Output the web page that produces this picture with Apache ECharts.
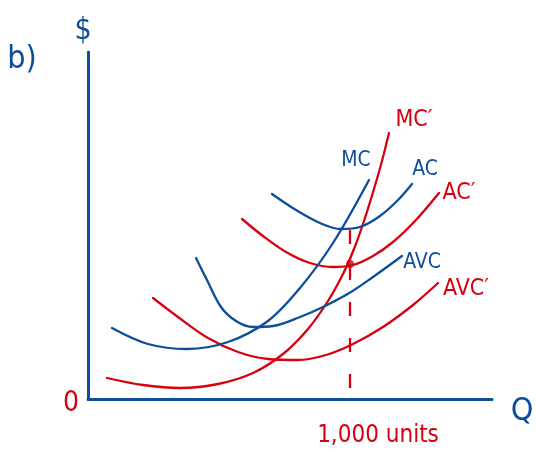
<!DOCTYPE html>
<html>
<head>
<meta charset="utf-8">
<script src="https://cdn.jsdelivr.net/npm/echarts@6/dist/echarts.min.js"></script>
<style>html,body{margin:0;padding:0;background:#fff}#c{width:536px;height:452px}</style>
</head>
<body>
<div id="c"></div>
<script>
// Values (x: quantity units along the axis, y: $ units)
const mcBlue   = [[24,71],[60,55],[99,50],[140,57],[180,78],[212,111],[245,156],[281,219]];
const acBlue   = [[184,205],[208,189],[232,176],[253,170],[272,172],[292,183],[310,199],[324,215]];
const avcBlue  = [[108,141],[119,119],[133,92],[148,78],[165,72],[185,73],[212,82],[235,92],[263,107],[285,122],[314,143]];
const mcRed    = [[19,21],[55,14],[92,11],[130,15],[165,26],[195,45],[220,70],[240,98],[255,125],[266,150],[276,178],[286,210],[294,238],[301,266]];
const acRed    = [[154,180],[175,163],[198,147],[222,136],[245,132],[265,134],[285,143],[305,157],[327,178],[351,206]];
const avcRed   = [[65,101],[90,82],[120,61],[150,47],[180,40],[210,39],[238,44],[265,55],[295,72],[325,94],[350,116]];
const guideLine = [[262,11],[262,169]];
const point     = [[262,135]];

const BLUE = '#0c4e9b', RED = '#d7000f';
const FONT = "'DejaVu Sans Condensed','Liberation Sans Narrow',sans-serif";

function curve(data, color){
  return {type:'line', data:data, smooth:0.35, showSymbol:false, silent:true,
    lineStyle:{color:color, width:2.3, cap:'round', join:'round'}};
}
function label(t, x, y, color, size){
  return {type:'text', x:x, y:y, style:{text:t, fill:color, font: size+'px '+FONT, textAlign:'center', textVerticalAlign:'middle'}};
}

const chart = echarts.init(document.getElementById('c'));
chart.setOption({
  animation:false,
  backgroundColor:'#fff',
  grid:{left:88, right:44, top:52, bottom:53},
  xAxis:{type:'value', min:0, max:404, axisLine:{show:true, onZero:false, lineStyle:{color:BLUE, width:3}},
    axisTick:{show:false}, axisLabel:{show:false}, splitLine:{show:false}},
  yAxis:{type:'value', min:0, max:347, axisLine:{show:true, onZero:false, lineStyle:{color:BLUE, width:3}},
    axisTick:{show:false}, axisLabel:{show:false}, splitLine:{show:false}},
  series:[
    curve(avcRed, RED),
    curve(mcRed, RED),
    curve(acRed, RED),
    curve(mcBlue, BLUE),
    curve(acBlue, BLUE),
    curve(avcBlue, BLUE),
    {type:'line', data:guideLine, showSymbol:false, silent:true,
      lineStyle:{color:RED, width:2.3, type:[14,22]}},
    {type:'scatter', data:point, symbol:'circle', symbolSize:8, itemStyle:{color:RED}, silent:true}
  ],
  graphic:[
    label('b)', 22, 60, BLUE, 32),
    label('$', 83, 31, BLUE, 30),
    label('0', 71, 404, RED, 28),
    label('Q', 522, 412, BLUE, 32),
    label('1,000 units', 378, 436, RED, 24),
    label('MC', 356, 161, BLUE, 21),
    label('AC', 425, 170, BLUE, 21),
    label('AVC', 422, 263, BLUE, 21),
    label('MC\u2032', 414, 120, RED, 23),
    label('AC\u2032', 459, 193, RED, 23),
    label('AVC\u2032', 466, 289, RED, 23)
  ]
});
</script>
</body>
</html>
